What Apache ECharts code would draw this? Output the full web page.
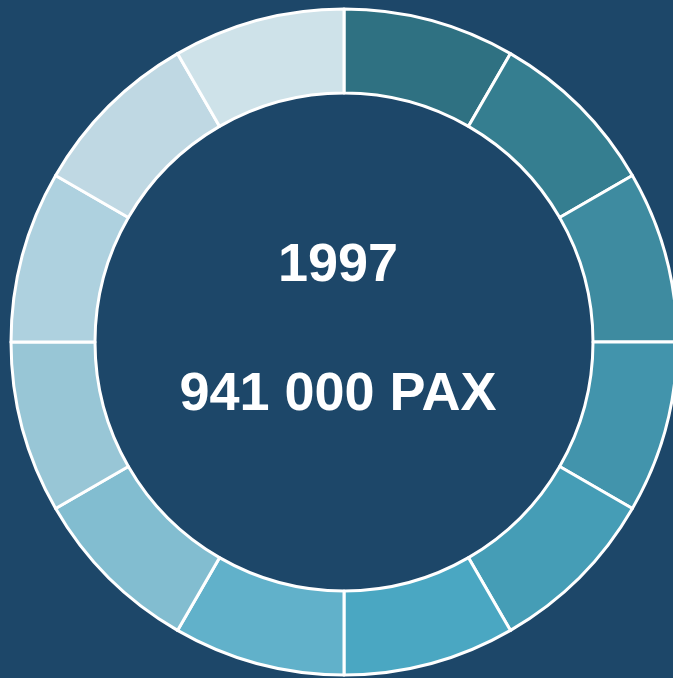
<!DOCTYPE html>
<html>
<head>
<meta charset="utf-8">
<script src="https://cdn.jsdelivr.net/npm/echarts@6/dist/echarts.min.js"></script>
<style>
  html, body { margin: 0; padding: 0; background: #1d4769; }
  #chart { width: 673px; height: 678px; }
</style>
</head>
<body>
<div id="chart"></div>
<script>
// twelve equal segments, clockwise from the top
var segments = ['1', '2', '3', '4', '5', '6', '7', '8', '9', '10', '11', '12']
var values = [1, 1, 1, 1, 1, 1, 1, 1, 1, 1, 1, 1]
var colors = ['#2f7182', '#357e90', '#3e8ba0', '#4294ac', '#459db6', '#4aa7c2',
  '#61b1ca', '#82bdd0', '#98c6d6', '#aed1df', '#bfd8e3', '#cee2e9']
var yearLabel = '1997'
var paxLabel = '941 000 PAX'

var myChart = echarts.init(document.getElementById('chart'))
myChart.setOption({
  backgroundColor: '#1d4769',
  animation: false,
  graphic: [
    {
      type: 'text',
      style: {
        text: yearLabel,
        x: 338,
        y: 266,
        fill: '#ffffff',
        font: 'bold 54px "Liberation Sans", Arial, sans-serif',
        textAlign: 'center',
        textVerticalAlign: 'middle'
      }
    },
    {
      type: 'text',
      style: {
        text: paxLabel,
        x: 338,
        y: 395,
        fill: '#ffffff',
        font: 'bold 54px "Liberation Sans", Arial, sans-serif',
        textAlign: 'center',
        textVerticalAlign: 'middle'
      }
    }
  ],
  series: [
    {
      type: 'pie',
      center: [344, 342],
      radius: [249, 333],
      startAngle: 90,
      clockwise: true,
      label: { show: false },
      labelLine: { show: false },
      emphasis: { disabled: true },
      itemStyle: {
        borderColor: '#ffffff',
        borderWidth: 3
      },
      data: segments.map(function (s, i) {
        return { name: s, value: values[i], itemStyle: { color: colors[i] } }
      })
    }
  ]
})
</script>
</body>
</html>
